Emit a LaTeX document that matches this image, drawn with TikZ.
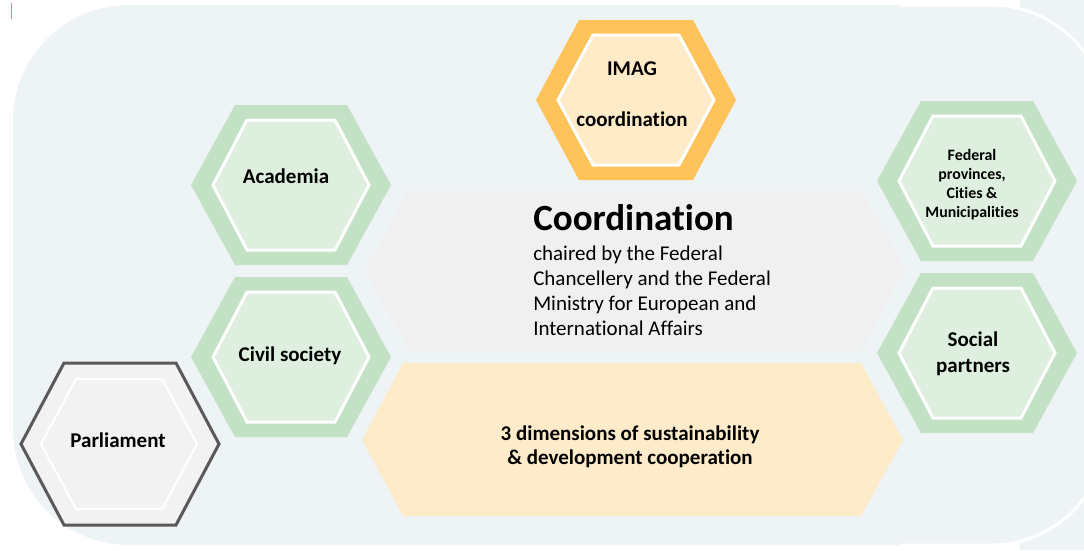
\documentclass[tikz,border=0pt]{standalone}
\usepackage{fontspec}
\setmainfont{Carlito}[Ligatures={NoCommon}]
\definecolor{bgblue}{HTML}{EEF3F6}
\definecolor{coordgray}{HTML}{F0F0F0}
\definecolor{dimorange}{HTML}{FEEBC9}
\definecolor{hexgreen}{HTML}{C3E1C5}
\definecolor{hexlight}{HTML}{DEEFDF}
\definecolor{imagorange}{HTML}{FFC35C}
\definecolor{imaglight}{HTML}{FFEBC7}
\definecolor{parlgray}{HTML}{F2F2F2}
\definecolor{parldark}{HTML}{595959}
\definecolor{markpink}{HTML}{E07BA5}
\begin{document}
\begin{tikzpicture}[x=0.75pt, y=-0.75pt,
  hexinner/.style={fill=hexlight, draw=white, line width=2.25pt},
  hextext/.style={font=\bfseries\fontsize{15.75}{19}\selectfont, align=center, inner sep=0pt}]
\useasboundingbox (0,0) rectangle (1084,550);

%Background
\begin{scope}
\clip (0,0) rectangle (1084,550);
\fill[bgblue] (1020,0) rectangle (1084,550);
\fill[bgblue, rounded corners=87] (13,5) rectangle (1107,545);
\draw[white, line width=2.25pt, rounded corners=87] (900,5) -- (1107,5) -- (1107,545) -- (900,545);
\end{scope}
\draw[markpink, line width=0.75pt] (11,3) -- (11,19);

%Coordination and dimensions bands
\fill[coordgray] (365,270) -- (409,190) -- (861,190) -- (905,270) -- (861,350) -- (409,350) -- cycle;
\fill[dimorange] (362,440) -- (403,363) -- (861,363) -- (903,440) -- (861,516) -- (403,516) -- cycle;

%Green hexagons
\foreach \x/\y in {291/185, 291/357, 977/181, 977/353}
{
  \fill[hexgreen] (\x,\y) ++(-100,0) -- ++(44,-80) -- ++(112,0) -- ++(44,80) -- ++(-44,80) -- ++(-112,0) -- cycle;
  \filldraw[hexinner] (\x,\y) ++(-78,0) -- ++(34,-65) -- ++(88,0) -- ++(34,65) -- ++(-34,65) -- ++(-88,0) -- cycle;
}

%IMAG hexagon
\fill[imagorange] (636,100) ++(-100,0) -- ++(43,-80) -- ++(114,0) -- ++(43,80) -- ++(-43,80) -- ++(-114,0) -- cycle;
\filldraw[hexinner, fill=imaglight] (636,100) ++(-78,0) -- ++(35,-65) -- ++(86,0) -- ++(35,65) -- ++(-35,65) -- ++(-86,0) -- cycle;

%Parliament hexagon
\filldraw[fill=parlgray, draw=parldark, line width=2.25pt] (120,444) ++(-99,0) -- ++(43,-81) -- ++(112,0) -- ++(43,81) -- ++(-43,81) -- ++(-112,0) -- cycle;
\draw[white, line width=1.5pt] (119,444) ++(-78,0) -- ++(35,-65) -- ++(86,0) -- ++(35,65) -- ++(-35,65) -- ++(-86,0) -- cycle;

%Labels
\node[hextext] (academia) at (286,176) {Academia};
\node[hextext] (civil) at (290,356) {Civil society};
\node[hextext] (parliament) at (118,440) {Parliament};
\node[hextext, font=\bfseries\fontsize{15.75}{38}\selectfont] (imag) at (632,94) {IMAG\\coordination};
\node[hextext, font=\bfseries\fontsize{11.9}{14.25}\selectfont] (federal) at (972,185) {Federal\\provinces,\\Cities \&\\Municipalities};
\node[hextext, font=\bfseries\fontsize{15.75}{19.5}\selectfont] (social) at (973,354) {Social\\partners};
\node[hextext, font=\bfseries\fontsize{15.75}{18}\selectfont] (dims) at (630,447) {3 dimensions of sustainability\\\& development cooperation};
\node[anchor=base west, inner sep=0pt, font=\bfseries\fontsize{27.75}{30}\selectfont] (coordtitle) at (533,230) {Coordination};
\node[anchor=north west, inner sep=0pt, align=left, font=\fontsize{15.75}{18.75}\selectfont] (coordtext) at (533,245.5)
  {chaired by the Federal\\Chancellery and the Federal\\Ministry for European and\\International Affairs};

\end{tikzpicture}
\end{document}
